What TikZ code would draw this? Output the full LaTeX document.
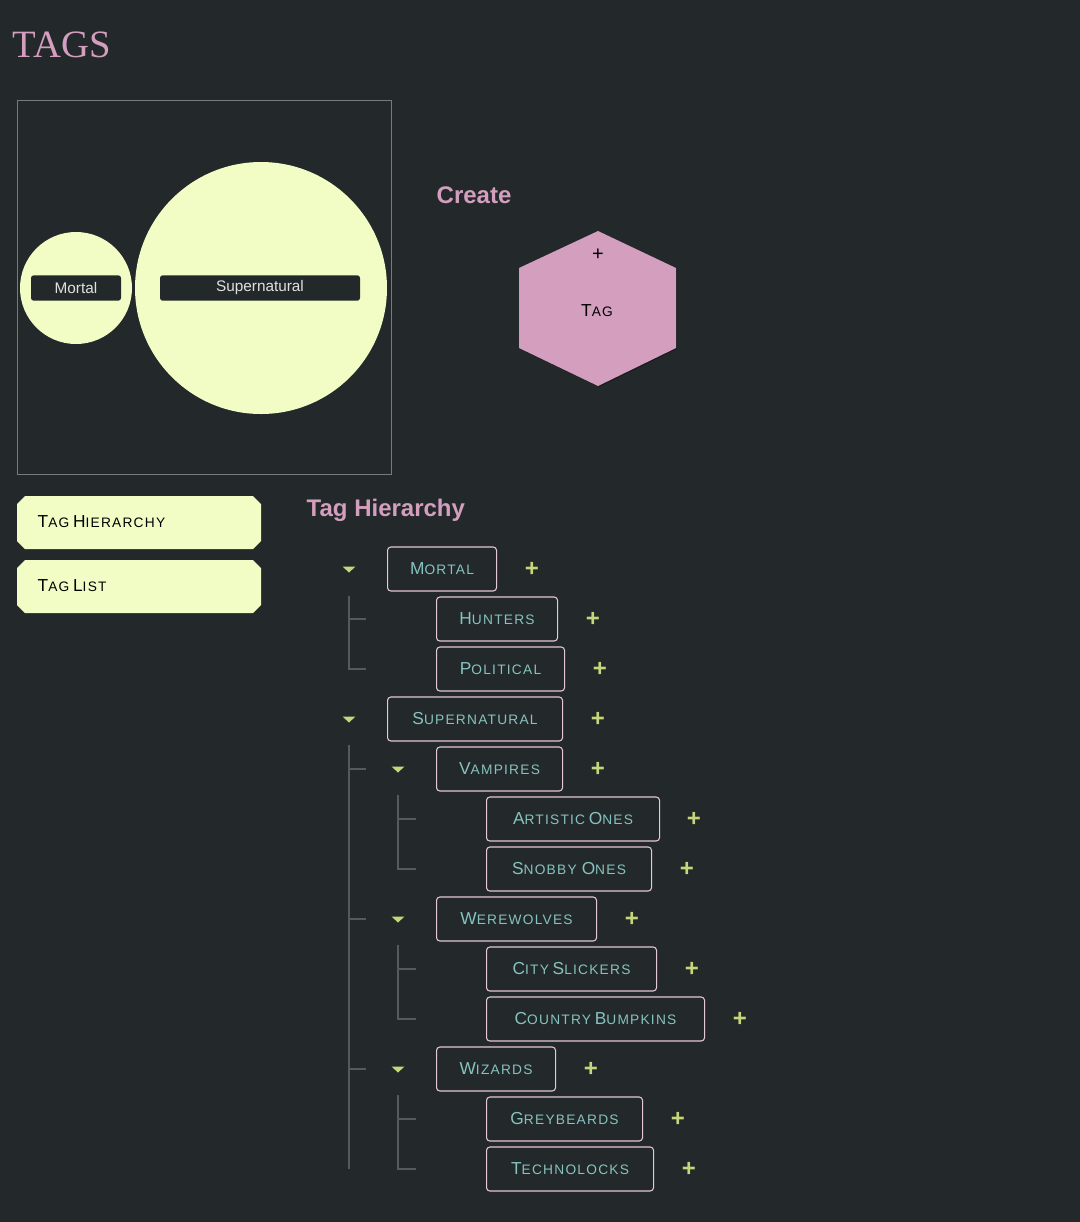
\documentclass[tikz,border=0pt]{standalone}
\usepackage{fontspec}
\setmainfont{Liberation Sans}
\newfontfamily\serifttl{Liberation Serif}
\newfontfamily\scfont[LetterSpace=9]{Liberation Sans}
\usetikzlibrary{shapes.geometric}
\definecolor{bg}{HTML}{23292A}
\definecolor{pinkc}{HTML}{D49EBF}
\definecolor{yel}{HTML}{F2FDC6}
\definecolor{teal}{HTML}{86C3C0}
\definecolor{plusc}{HTML}{C6D67A}
\definecolor{linec}{HTML}{555A5A}
\definecolor{boxb}{HTML}{E6C8D6}
\newcommand\scbig{\scfont\fontsize{13pt}{13pt}\selectfont}
\newcommand\scsmall{\scfont\fontsize{10.3pt}{10pt}\selectfont}
\newcommand\SC[2]{{\scbig #1}{\scsmall #2}}
\begin{document}
\begin{tikzpicture}[x=0.75pt,y=-0.75pt,
  tbox/.style={draw=boxb,rounded corners=2.5pt,line width=0.8pt,anchor=west,minimum height=33pt,text=teal,inner xsep=0pt},
  plus/.style={text=plusc,font=\bfseries\fontsize{18pt}{18pt}\selectfont},
  tl/.style={draw=linec,line width=0.9pt}]
\fill[bg] (0,0) rectangle (1080,1222);
\useasboundingbox (0,0) rectangle (1080,1222);
\node[text=pinkc,font=\serifttl\fontsize{29pt}{29pt}\selectfont,anchor=west] (title) at (8,45) {TAGS};
% left panel
\draw[draw=linec!80] (17,100) rectangle (391,474);
\fill[yel] (76,288) circle (56);
\fill[yel] (261,288) circle (126);
\node[fill=bg,rounded corners=2pt,minimum width=67.5pt,minimum height=19pt,text=white!88!black,font=\fontsize{11.5pt}{12pt}\selectfont] (cm) at (76,288) {Mortal};
\node[fill=bg,rounded corners=2pt,minimum width=150pt,minimum height=19pt,text=white!88!black,font=\fontsize{11.5pt}{12pt}\selectfont] (cs) at (260,288) {Supernatural};
% create
\node[text=pinkc,font=\bfseries\fontsize{18pt}{18pt}\selectfont,anchor=west] (create) at (432,195) {Create};
\fill[black!30!bg] (599,232)--(677,269)--(677,349)--(599,387)--(520,349)--(520,269)--cycle;
\fill[pinkc] (598,231)--(676,268)--(676,348)--(598,386)--(519,348)--(519,268)--cycle;
\node[font=\fontsize{15pt}{15pt}\selectfont] (hplus) at (598,255) {+};
\node (htag) at (597,311) {\SC{T}{AG}};
% buttons
\fill[yel] (25,496)--(253,496)--(261,504)--(261,541)--(253,549)--(25,549)--(17,541)--(17,504)--cycle;
\fill[yel] (25,560)--(253,560)--(261,568)--(261,605)--(253,613)--(25,613)--(17,605)--(17,568)--cycle;
\node[anchor=west] (b1) at (33,522) {\SC{T}{AG} \SC{H}{IERARCHY}};
\node[anchor=west] (b2) at (33,586) {\SC{T}{AG} \SC{L}{IST}};
\node[text=pinkc,font=\bfseries\fontsize{18pt}{18pt}\selectfont,anchor=west] (th) at (302,510) {Tag Hierarchy};
% tree lines
\draw[tl] (349,596)--(349,669)--(366,669) (349,619)--(366,619);
\draw[tl] (349,745)--(349,1169) (349,769)--(366,769) (349,919)--(366,919) (349,1069)--(366,1069);
\foreach \a/\b in {795/819,945/969,1095/1119}{
  \draw[tl] (398,\a)--(398,\b+50)--(416,\b+50) (398,\b)--(416,\b);}
% triangles
\foreach \x/\y in {349/569,349/719,398/769,398/919,398/1069}{
  \fill[plusc] (\x-6.5,\y-2.5)--(\x+6.5,\y-2.5)--(\x,\y+3.5)--cycle;}
% boxes
\foreach \n/\xa/\xb/\y/\f/\r in {
 mortal/387/496/569/M/ORTAL,
 hunters/436/557/619/H/UNTERS,
 political/436/564/669/P/OLITICAL,
 super/387/562/719/S/UPERNATURAL,
 vamp/436/562/769/V/AMPIRES,
 snobby/486/651/869/S/NOBBY {\scbig O}NES,
 were/436/596/919/W/EREWOLVES,
 wiz/436/555/1069/W/IZARDS,
 grey/486/642/1119/G/REYBEARDS,
 techno/486/653/1169/T/ECHNOLOCKS}{
  \node[tbox,minimum width=(\xb-\xa)*0.75pt] (\n) at (\xa,\y) {\SC{\f}{\r}};
  \node[plus] (\n p) at (\xb+36,\y) {+};}
\node[tbox,minimum width=(659-486)*0.75pt] (artistic) at (486,819) {\SC{A}{RTISTIC} \SC{O}{NES}};
\node[plus] (artisticp) at (694,819) {+};
\node[tbox,minimum width=(656-486)*0.75pt] (city) at (486,969) {\SC{C}{ITY} \SC{S}{LICKERS}};
\node[plus] (cityp) at (692,969) {+};
\node[tbox,minimum width=(704-486)*0.75pt] (country) at (486,1019) {\SC{C}{OUNTRY} \SC{B}{UMPKINS}};
\node[plus] (countryp) at (740,1019) {+};
\end{tikzpicture}
\end{document}
